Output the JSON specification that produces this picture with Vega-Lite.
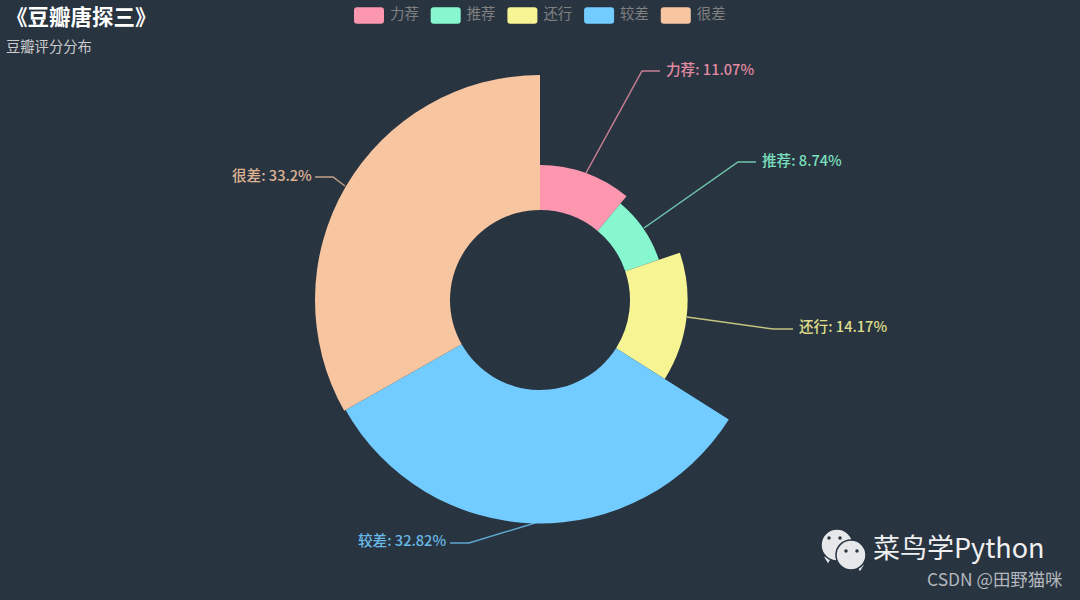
{
"$schema":"https://vega.github.io/schema/vega-lite/v6.json",
"width":1080,"height":600,"padding":0,"autosize":{"type":"none"},
"background":"#293441",
"title":{"text":"《豆瓣唐探三》","subtitle":"豆瓣评分分布","anchor":"start","frame":"group","orient":"top","dx":6,"dy":59.5,"font":"Noto Sans CJK SC","fontSize":21.5,"fontWeight":"bold","color":"#ffffff","subtitleFont":"Noto Sans CJK SC","subtitleFontSize":14.3,"subtitleColor":"#cccccc","subtitlePadding":11.5},
"config":{"view":{"stroke":null},"font":"Noto Sans CJK SC"},
"datasets":{
"ratings":[{"name":"力荐","value":11.07,"rank":1},{"name":"推荐","value":8.74,"rank":2},{"name":"还行","value":14.17,"rank":3},{"name":"较差","value":32.82,"rank":4},{"name":"很差","value":33.2,"rank":5}],
"leaders":[
{"name":"力荐","step":1,"px":586,"py":173},{"name":"力荐","step":2,"px":642,"py":71},{"name":"力荐","step":3,"px":660,"py":71},
{"name":"推荐","step":1,"px":644,"py":228},{"name":"推荐","step":2,"px":738,"py":162},{"name":"推荐","step":3,"px":756,"py":162},
{"name":"还行","step":1,"px":687,"py":317},{"name":"还行","step":2,"px":773,"py":329},{"name":"还行","step":3,"px":793,"py":329},
{"name":"较差","step":1,"px":535,"py":523},{"name":"较差","step":2,"px":469,"py":543},{"name":"较差","step":3,"px":450,"py":543},
{"name":"很差","step":1,"px":345,"py":186},{"name":"很差","step":2,"px":333,"py":177},{"name":"很差","step":3,"px":315,"py":177}],
"labels":[
{"name":"力荐","text":"力荐: 11.07%","px":666,"py":71},
{"name":"推荐","text":"推荐: 8.74%","px":762,"py":162},
{"name":"还行","text":"还行: 14.17%","px":799,"py":328},
{"name":"较差","text":"较差: 32.82%","px":358,"py":542},
{"name":"很差","text":"很差: 33.2%","px":232,"py":177}],
"bubbles":[{"px":837,"py":545,"d":32},{"px":851,"py":555,"d":30}],
"tails":[{"px":828,"py":560,"dir":"down"},{"px":860,"py":568,"dir":"down"}],
"eyes":[{"px":829,"py":538},{"px":840,"py":538},{"px":846,"py":551},{"px":857,"py":551}],
"marks":[{"text":"菜鸟学Python","px":873,"py":550,"s":"a"},{"text":"CSDN @田野猫咪","px":927,"py":581,"s":"b"}]
},
"layer":[
{"data":{"name":"ratings"},
"mark":{"type":"arc","innerRadius":90},
"encoding":{
"theta":{"field":"value","type":"quantitative","stack":"zero","scale":{"domain":[0,100],"range":[0,6.28318530718]}},
"radius":{"field":"value","type":"quantitative","scale":{"type":"linear","domain":[0,33.2],"range":[90,225],"zero":false,"nice":false}},
"order":{"field":"rank","type":"ordinal"},
"color":{"field":"name","type":"nominal","sort":["力荐","推荐","还行","较差","很差"],
"scale":{"domain":["力荐","推荐","还行","较差","很差"],"range":["#fc97af","#87f7cf","#f7f494","#72ccff","#f7c5a0"]},
"legend":{"orient":"none","legendX":354,"legendY":0,"direction":"horizontal","title":null,"padding":0,"columnPadding":11.7,"labelOffset":6,"labelFont":"Noto Sans CJK SC","labelFontSize":14.4,"labelColor":"#808080","symbolSize":900,"symbolStrokeWidth":0,"symbolOpacity":1,
"symbolType":"M-0.8,-0.55 L0.8,-0.55 Q1,-0.55 1,-0.35 L1,0.35 Q1,0.55 0.8,0.55 L-0.8,0.55 Q-1,0.55 -1,0.35 L-1,-0.35 Q-1,-0.55 -0.8,-0.55 Z"}}
}},
{"data":{"name":"leaders"},
"mark":{"type":"line","strokeWidth":1.5,"opacity":0.75},
"encoding":{
"x":{"field":"px","type":"quantitative","axis":null,"scale":{"domain":[0,1080],"range":[0,1080],"zero":false,"nice":false}},
"y":{"field":"py","type":"quantitative","axis":null,"scale":{"domain":[0,600],"range":[0,600],"zero":false,"nice":false}},
"order":{"field":"step","type":"quantitative"},
"detail":{"field":"name"},
"color":{"field":"name","type":"nominal","legend":null}
}},
{"data":{"name":"labels"},
"mark":{"type":"text","align":"left","baseline":"middle","fontSize":14.6,"fontWeight":500,"opacity":0.88},
"encoding":{
"x":{"field":"px","type":"quantitative"},
"y":{"field":"py","type":"quantitative"},
"text":{"field":"text"},
"color":{"field":"name","type":"nominal","legend":null}
}},
{"data":{"name":"tails"},
"mark":{"type":"point","shape":"triangle-down","filled":true,"fill":"#e6e8ea","size":60,"opacity":1},
"encoding":{
"x":{"field":"px","type":"quantitative"},
"y":{"field":"py","type":"quantitative"}
}},
{"data":{"name":"bubbles"},
"mark":{"type":"point","shape":"circle","filled":true,"fill":"#e6e8ea","stroke":"#293441","strokeWidth":1.5,"opacity":1},
"encoding":{
"x":{"field":"px","type":"quantitative"},
"y":{"field":"py","type":"quantitative"},
"size":{"field":"d","type":"quantitative","legend":null,"scale":{"domain":[30,32],"range":[900,1024]}}
}},
{"data":{"name":"eyes"},
"mark":{"type":"point","shape":"circle","filled":true,"fill":"#293441","size":12,"opacity":1},
"encoding":{
"x":{"field":"px","type":"quantitative"},
"y":{"field":"py","type":"quantitative"}
}},
{"data":{"name":"marks"},"transform":[{"filter":"datum.s==='a'"}],
"mark":{"type":"text","align":"left","baseline":"middle","fontSize":27,"color":"#f0f0f0"},
"encoding":{
"x":{"field":"px","type":"quantitative"},
"y":{"field":"py","type":"quantitative"},
"text":{"field":"text"}
}},
{"data":{"name":"marks"},"transform":[{"filter":"datum.s==='b'"}],
"mark":{"type":"text","align":"left","baseline":"middle","fontSize":17.4,"color":"#b4b8bc"},
"encoding":{
"x":{"field":"px","type":"quantitative"},
"y":{"field":"py","type":"quantitative"},
"text":{"field":"text"}
}}
]
}
